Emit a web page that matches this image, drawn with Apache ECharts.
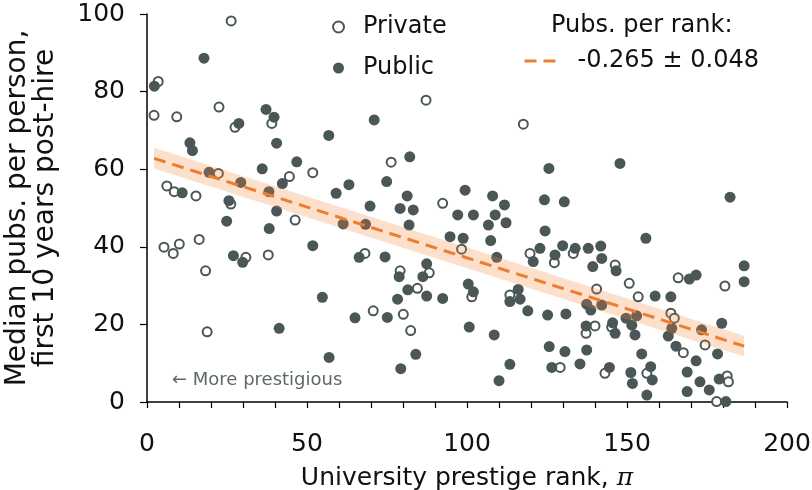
<!DOCTYPE html>
<html>
<head>
<meta charset="utf-8">
<script src="https://cdn.jsdelivr.net/npm/echarts@6/dist/echarts.min.js"></script>
<style>
  html, body { margin: 0; padding: 0; background: #fff; }
  #chart { width: 812px; height: 490px; }
</style>
</head>
<body>
<div id="chart"></div>
<script>
// ---- Data ----
const privateRank = [
  26.3, 3.5, 2.2, 9.3, 22.5, 39.0, 27.5, 44.5, 22.3, 6.2,
  8.5, 15.3, 26.2, 46.3, 5.3, 8.2, 10.1, 16.3, 18.3, 30.9,
  37.9, 18.8, 87.2, 51.8, 76.3, 92.4, 98.3, 68.1, 79.1, 88.2,
  84.5, 70.7, 80.1, 82.4, 117.6, 119.7, 127.3, 133.2, 146.3, 101.5,
  113.4, 140.5, 140.0, 137.2, 145.2, 129.1, 143.1, 150.7, 153.5, 166.0,
  180.6, 163.7, 164.8, 174.4, 167.6, 156.2, 181.3, 181.7, 178.0
];
const privatePubs = [
  98.2, 82.6, 73.9, 73.5, 76.0, 71.8, 70.8, 58.1, 58.9, 55.7,
  54.2, 53.1, 51.0, 46.9, 39.9, 38.3, 40.7, 41.9, 33.8, 37.3,
  37.9, 18.1, 77.8, 59.1, 61.8, 51.2, 39.4, 38.3, 33.8, 33.3,
  29.3, 23.5, 22.6, 18.4, 71.6, 38.3, 35.9, 38.3, 35.3, 27.1,
  27.6, 29.1, 19.6, 17.7, 19.3, 8.9, 7.4, 30.6, 27.1, 32.0,
  29.9, 22.9, 21.6, 14.7, 12.7, 7.4, 6.7, 5.2, 0.1
];
const publicRank = [
  17.8, 2.3, 37.2, 39.7, 28.7, 40.5, 13.4, 14.2, 46.8, 36.0,
  42.3, 19.4, 29.3, 38.1, 11.0, 25.6, 40.5, 24.9, 38.2, 27.0,
  29.9, 41.3, 71.0, 56.8, 82.1, 63.1, 59.1, 74.9, 81.3, 79.1,
  83.2, 69.7, 99.4, 97.1, 61.3, 68.3, 81.9, 94.7, 98.8, 51.8,
  66.3, 74.4, 87.4, 78.8, 86.2, 81.5, 78.3, 87.4, 92.4, 54.8,
  65.0, 75.1, 56.9, 84.0, 79.3, 125.6, 147.8, 108.0, 111.7, 124.2,
  130.4, 102.0, 108.8, 112.2, 106.7, 107.4, 109.3, 124.4, 122.8, 120.7,
  127.5, 129.9, 133.8, 137.9, 141.8, 142.1, 139.3, 146.6, 100.4, 102.0,
  116.0, 113.4, 116.6, 119.0, 125.2, 130.9, 137.4, 138.7, 142.1, 137.2,
  145.5, 146.3, 100.7, 108.5, 125.7, 130.6, 137.4, 113.4, 126.5, 135.3,
  144.5, 110.0, 182.2, 155.9, 158.8, 163.7, 171.6, 169.5, 186.6, 186.6,
  149.7, 153.0, 151.5, 152.5, 164.0, 162.9, 173.3, 179.6, 178.3, 165.3,
  171.6, 154.6, 151.2, 151.7, 157.4, 157.9, 156.2, 168.8, 168.8, 172.8,
  175.7, 178.8, 180.9
];
const publicPubs = [
  88.6, 81.4, 75.4, 73.4, 71.8, 66.7, 66.8, 64.8, 61.9, 60.1,
  56.3, 59.2, 56.6, 54.2, 53.9, 51.9, 49.2, 46.6, 44.7, 37.7,
  36.0, 19.0, 72.7, 68.7, 63.2, 56.0, 53.8, 56.8, 53.1, 49.9,
  49.5, 50.5, 54.6, 48.2, 45.9, 45.8, 45.6, 42.6, 42.2, 40.3,
  37.3, 37.4, 35.6, 32.3, 32.3, 28.9, 26.5, 27.3, 26.7, 27.0,
  21.7, 21.8, 11.5, 12.3, 8.6, 60.2, 61.5, 53.1, 50.8, 52.1,
  51.6, 48.2, 48.2, 46.2, 45.6, 41.6, 37.3, 44.1, 39.6, 36.2,
  37.9, 40.3, 39.6, 39.6, 40.2, 37.0, 34.9, 33.8, 30.4, 28.4,
  29.0, 25.9, 26.5, 23.5, 22.4, 22.7, 25.2, 23.7, 25.0, 19.6,
  20.4, 17.7, 19.3, 17.3, 14.3, 13.0, 13.4, 9.7, 8.9, 9.8,
  8.9, 5.5, 52.8, 42.2, 27.3, 27.1, 32.7, 31.7, 35.1, 31.0,
  21.6, 22.2, 19.8, 17.3, 19.0, 17.0, 18.6, 20.3, 12.4, 14.4,
  10.6, 12.4, 7.6, 4.8, 9.1, 5.7, 1.8, 7.7, 2.7, 5.2,
  3.1, 5.9, 0.1
];
// Fitted line and its band
const fitRank = [2.2, 186.6];
const fitPubs = [62.8, 14.4];
const bandRank = [2.2, 186.6];
const bandLow = [60.2, 11.7];
const bandHigh = [65.5, 17.1];

const fitLabel = '-0.265 \u00b1 0.048';
const xTicks = [0, 50, 100, 150, 200];
const yTicks = [0, 20, 40, 60, 80, 100];

// ---- Styles ----
const FONT = 'DejaVu Sans';
const DARK = '#4b5657';
const ORANGE = '#f07d2e';

const zip = (a, b) => a.map((v, i) => [v, b[i]]);

const chart = echarts.init(document.getElementById('chart'), null, { renderer: 'canvas' });

chart.setOption({
  animation: false,
  backgroundColor: '#fff',
  textStyle: { fontFamily: FONT },
  grid: { left: 147, right: 25, top: 14, bottom: 88, containLabel: false, outerBoundsMode: 'none' },
  title: {
    text: 'Pubs. per rank:',
    left: 551, top: 14, padding: 0,
    textStyle: { fontFamily: FONT, fontSize: 24, fontWeight: 'normal', color: '#111' }
  },
  legend: [
    {
      orient: 'vertical', left: 332, top: 12, padding: 0,
      itemWidth: 11, itemHeight: 11, itemGap: 11,
      textStyle: { fontFamily: FONT, fontSize: 24, color: '#111', lineHeight: 30, padding: [0, 0, 0, 14] },
      data: [
        { name: 'Private', icon: 'circle', itemStyle: { color: '#fff', borderColor: DARK, borderWidth: 2 } },
        { name: 'Public', icon: 'circle', itemStyle: { color: DARK, borderWidth: 0 } }
      ]
    },
    {
      orient: 'vertical', left: 523, top: 46, padding: 0,
      itemWidth: 31, itemHeight: 14,
      lineStyle: { color: ORANGE, width: 3, type: [12, 7] },
      textStyle: { fontFamily: FONT, fontSize: 24, color: '#111', lineHeight: 30, padding: [0, 0, 0, 17] },
      data: [{ name: fitLabel, itemStyle: { opacity: 0 }, lineStyle: { color: ORANGE, width: 3, type: [12, 7] } }]
    }
  ],
  xAxis: {
    type: 'value', min: xTicks[0], max: xTicks[xTicks.length - 1], interval: 50,
    axisLine: { lineStyle: { color: '#000', width: 1.5 } },
    axisTick: { show: true, length: 6, lineStyle: { color: '#000', width: 1.2 } },
    minorTick: { show: true, splitNumber: 5, length: 6, lineStyle: { color: '#000', width: 1.2 } },
    splitLine: { show: false },
    axisLabel: { color: '#111', fontFamily: FONT, fontSize: 25, margin: 30 },
    name: 'University prestige rank, {pi|\u03c0}',
    nameLocation: 'middle', nameGap: 64,
    nameTextStyle: {
      color: '#111', fontFamily: FONT, fontSize: 25,
      rich: { pi: { fontFamily: 'DejaVu Serif', fontStyle: 'italic', fontSize: 25, color: '#111' } }
    }
  },
  yAxis: {
    type: 'value', min: yTicks[0], max: yTicks[yTicks.length - 1], interval: 20,
    axisLine: { show: true, lineStyle: { color: '#000', width: 1.5 } },
    axisTick: { show: true, length: 7, lineStyle: { color: '#000', width: 1.2 } },
    splitLine: { show: false },
    axisLabel: { color: '#111', fontFamily: FONT, fontSize: 25, margin: 22 },
    name: 'Median pubs. per person,\nfirst 10 years post-hire',
    nameLocation: 'middle', nameGap: 87,
    nameTextStyle: { color: '#111', fontFamily: FONT, fontSize: 28, lineHeight: 28 }
  },
  graphic: [
    {
      type: 'text', left: 172, top: 371,
      style: { text: '\u2190 More prestigious', fill: '#5d6869', font: '18px "DejaVu Sans"' }
    }
  ],
  series: [
    {
      name: 'Private', type: 'scatter', z: 2,
      symbol: 'circle', symbolSize: 9,
      itemStyle: { color: '#fff', borderColor: DARK, borderWidth: 2, opacity: 1 },
      data: zip(privateRank, privatePubs)
    },
    {
      name: 'Public', type: 'scatter', z: 2,
      symbol: 'circle', symbolSize: 11,
      itemStyle: { color: DARK, opacity: 1 },
      data: zip(publicRank, publicPubs)
    },
    {
      name: 'band', type: 'custom', z: 3, silent: true,
      encode: { x: 0, y: [1, 2] },
      data: bandRank.map((r, i) => [r, bandLow[i], bandHigh[i]]),
      renderItem: function (params, api) {
        if (params.dataIndex !== 0) return;
        const pts = [];
        for (let i = 0; i < bandRank.length; i++) pts.push(api.coord([bandRank[i], bandHigh[i]]));
        for (let i = bandRank.length - 1; i >= 0; i--) pts.push(api.coord([bandRank[i], bandLow[i]]));
        return { type: 'polygon', shape: { points: pts }, style: { fill: 'rgba(245,130,50,0.25)' } };
      }
    },
    {
      name: fitLabel, type: 'line', z: 4, symbol: 'none', silent: true,
      lineStyle: { color: ORANGE, width: 3, type: [12, 7] },
      itemStyle: { color: ORANGE },
      data: zip(fitRank, fitPubs)
    }
  ]
});
</script>
</body>
</html>
